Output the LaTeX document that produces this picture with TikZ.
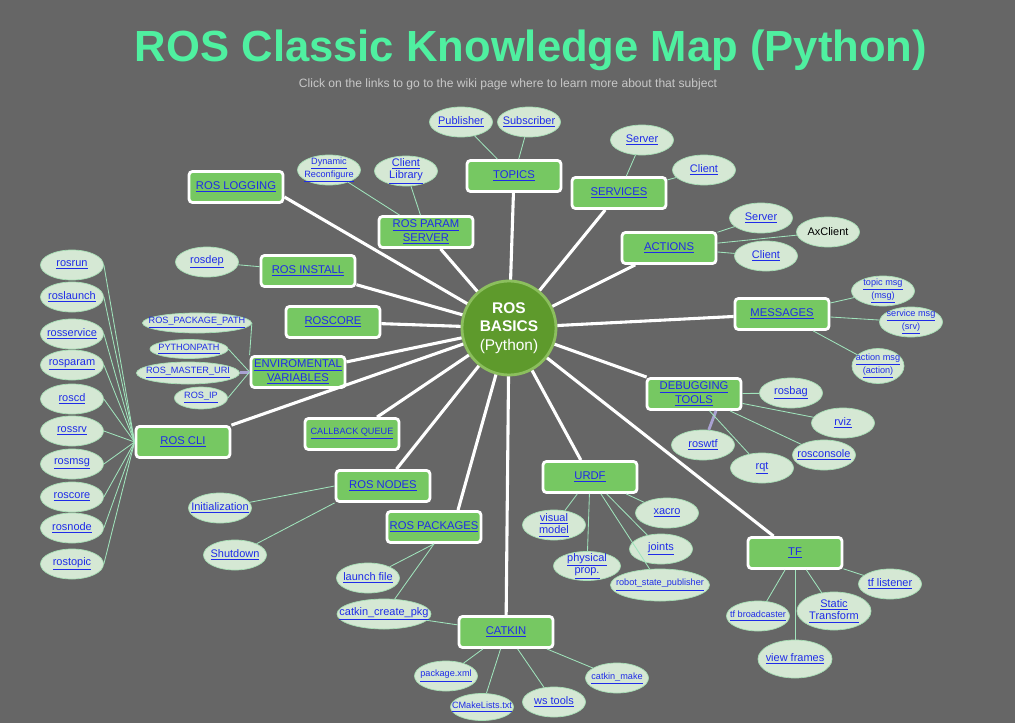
\documentclass[tikz,border=0pt]{standalone}
\usepackage{fontspec}
\setmainfont{Liberation Sans}
\usetikzlibrary{shapes.geometric, positioning}

\definecolor{bggray}{HTML}{666666}
\definecolor{boxgreen}{HTML}{76C862}
\definecolor{coregreen}{HTML}{5E9A2C}
\definecolor{coreedge}{HTML}{8CBF5E}
\definecolor{leaffill}{HTML}{D5E8D4}
\definecolor{leafedge}{HTML}{A6DDB4}
\definecolor{twiggreen}{HTML}{A0E4BC}
\definecolor{linkblue}{HTML}{1F2BE8}
\definecolor{titlegreen}{HTML}{4FF0A0}
\definecolor{subgray}{HTML}{C8C8C8}
\definecolor{lavender}{HTML}{A9A2D2}

\begin{document}
\begin{tikzpicture}[x=0.025cm, y=-0.025cm,
	topic/.style={draw=white, line width=2pt, fill=boxgreen, rounded corners=2.5pt,
		minimum width=2.35cm, minimum height=0.775cm, inner sep=1pt, align=center,
		text=linkblue, font=\fontsize{8}{9.6}\selectfont},
	leaf/.style={ellipse, draw=leafedge, fill=leaffill, line width=0.5pt,
		minimum width=1.575cm, minimum height=0.75cm, inner xsep=-10pt, inner ysep=-3pt,
		align=center, text=linkblue, font=\fontsize{7.8}{8.8}\selectfont},
	smalltext/.style={font=\fontsize{6.5}{7.6}\selectfont},
	spoke/.style={draw=white, line width=2.2pt},
	twig/.style={draw=twiggreen, line width=0.6pt},
	thicktwig/.style={draw=lavender, line width=2pt}]
	
	\newcommand{\lnk}[1]{\underline{#1}}
	
	% page
	\fill[bggray] (0,0) rectangle (1015,723);
	\node[font=\fontsize{31}{34}\selectfont\bfseries, text=titlegreen] (title) at (531,50)
	{ROS Classic Knowledge Map (Python)};
	\node[font=\fontsize{8.6}{10}\selectfont, text=subgray] (subtitle) at (508,84)
	{Click on the links to go to the wiki page where to learn more about that subject};
	
	% centre
	\node[circle, fill=coregreen, draw=coreedge, line width=2pt, minimum size=2.35cm,
	inner sep=0pt, text=white, align=center, font=\fontsize{11}{13}\selectfont] (core) at (509,328)
	{\textbf{ROS}\\\textbf{BASICS}\\(Python)};
	
	% main topics
	\node[topic] (topics) at (514,176) {\lnk{TOPICS}};
	\node[topic] (services) at (619,193) {\lnk{SERVICES}};
	\node[topic] (actions) at (669,248) {\lnk{ACTIONS}};
	\node[topic] (messages) at (782,314) {\lnk{MESSAGES}};
	\node[topic] (debug) at (694,394) {\lnk{DEBUGGING}\\\lnk{TOOLS}};
	\node[topic] (urdf) at (590,477) {\lnk{URDF}};
	\node[topic] (tf) at (795,553) {\lnk{TF}};
	\node[topic] (catkin) at (506,632) {\lnk{CATKIN}};
	\node[topic] (packages) at (434,527) {\lnk{ROS PACKAGES}};
	\node[topic] (nodes) at (383,486) {\lnk{ROS NODES}};
	\node[topic, smalltext] (callback) at (352,434) {\lnk{CALLBACK QUEUE}};
	\node[topic] (cli) at (183,442) {\lnk{ROS CLI}};
	\node[topic] (envvars) at (298,372) {\lnk{ENVIROMENTAL}\\\lnk{VARIABLES}};
	\node[topic] (roscore) at (333,322) {\lnk{ROSCORE}};
	\node[topic] (install) at (308,271) {\lnk{ROS INSTALL}};
	\node[topic] (logging) at (236,187) {\lnk{ROS LOGGING}};
	\node[topic] (param) at (426,232) {\lnk{ROS PARAM}\\\lnk{SERVER}};
	
	% spokes
	\foreach \b in {topics, services, actions, messages, debug, urdf, tf, catkin,
		nodes, callback, cli, envvars, roscore, install, param}
	\draw[spoke] (core) -- (\b);
	\draw[spoke] (core) -- ([xshift=0.6cm]packages.north);
	\draw[spoke] (core) -- ([yshift=-0.25cm]logging.east);
	
	% ros cli column
	\foreach \c/\y in {rosrun/265, roslaunch/297, rosservice/334, rosparam/365, roscd/399,
		rossrv/431, rosmsg/464, roscore/497, rosnode/528, rostopic/564} {
		\node[leaf] (c-\c) at (72,\y) {\lnk{\c}};
		\draw[twig] (c-\c.east) -- (cli.west);
	}
	
	% topics, param server, install
	\node[leaf] (pub) at (461,122) {\lnk{Publisher}};
	\node[leaf] (sub) at (529,122) {\lnk{Subscriber}};
	\node[leaf] (clientlib) at (406,171) {\lnk{Client}\\\lnk{Library}};
	\node[leaf, smalltext] (dynreconf) at (329,170) {\lnk{Dynamic}\\\lnk{Reconfigure}};
	\node[leaf] (rosdep) at (207,262) {\lnk{rosdep}};
	\draw[twig] (pub) -- (topics);
	\draw[twig] (sub) -- (topics);
	\draw[twig] (clientlib) -- (param);
	\draw[twig] (dynreconf) -- (param);
	\draw[twig] (rosdep) -- (install);
	
	% services, actions, messages
	\node[leaf] (srvserver) at (642,140) {\lnk{Server}};
	\node[leaf] (srvclient) at (704,170) {\lnk{Client}};
	\node[leaf] (actserver) at (761,218) {\lnk{Server}};
	\node[leaf, text=black] (axclient) at (828,232) {AxClient};
	\node[leaf] (actclient) at (766,256) {\lnk{Client}};
	\node[leaf, smalltext] (topicmsg) at (883,291) {\lnk{topic msg}\\\lnk{(msg)}};
	\node[leaf, smalltext] (srvmsg) at (911,322) {\lnk{service msg}\\\lnk{(srv)}};
	\node[leaf, smalltext, minimum width=1.3cm, minimum height=0.875cm] (actmsg) at (878,366)
	{\lnk{action msg}\\\lnk{(action)}};
	\draw[twig] (srvserver) -- (services);
	\draw[twig] (srvclient) -- (services);
	\draw[twig] (actserver) -- (actions);
	\draw[twig] (axclient) -- (actions);
	\draw[twig] (actclient) -- (actions);
	\draw[twig] (topicmsg) -- (messages);
	\draw[twig] (srvmsg) -- (messages);
	\draw[twig] (actmsg) -- (messages);
	
	% debugging tools
	\node[leaf] (rosbag) at (791,393) {\lnk{rosbag}};
	\node[leaf] (rviz) at (843,423) {\lnk{rviz}};
	\node[leaf] (roswtf) at (703,445) {\lnk{roswtf}};
	\node[leaf] (rqt) at (762,468) {\lnk{rqt}};
	\node[leaf] (rosconsole) at (824,455) {\lnk{rosconsole}};
	\draw[twig] (rosbag) -- (debug);
	\draw[twig] (rviz) -- (debug);
	\draw[thicktwig] (roswtf) -- ([xshift=0.55cm]debug.south);
	\draw[twig] (rqt) -- (debug);
	\draw[twig] (rosconsole) -- (debug);
	
	% urdf
	\node[leaf] (visual) at (554,525) {\lnk{visual}\\\lnk{model}};
	\node[leaf, minimum width=1.675cm, minimum height=0.725cm] (physical) at (587,566)
	{\lnk{physical}\\\lnk{prop.}};
	\node[leaf, smalltext, minimum width=2.475cm, minimum height=0.8cm] (rsp) at (660,585)
	{\lnk{robot\_state\_publisher}};
	\node[leaf] (joints) at (661,549) {\lnk{joints}};
	\node[leaf] (xacro) at (667,513) {\lnk{xacro}};
	\draw[twig] (visual) -- (urdf);
	\draw[twig] (physical) -- (urdf);
	\draw[twig] (rsp) -- (urdf);
	\draw[twig] (joints) -- (urdf);
	\draw[twig] (xacro) -- (urdf);
	
	% tf
	\node[leaf, smalltext] (tfbroad) at (758,616) {\lnk{tf broadcaster}};
	\node[leaf, minimum width=1.85cm, minimum height=0.95cm] (viewframes) at (795,659) {\lnk{view frames}};
	\node[leaf, minimum width=1.85cm, minimum height=0.95cm] (static) at (834,611)
	{\lnk{Static}\\\lnk{Transform}};
	\node[leaf] (tflisten) at (890,584) {\lnk{tf listener}};
	\draw[twig] (tfbroad) -- (tf);
	\draw[twig] (viewframes) -- (tf);
	\draw[twig] (static) -- (tf);
	\draw[twig] (tflisten) -- (tf);
	
	% catkin and packages
	\node[leaf, smalltext] (pkgxml) at (446,676) {\lnk{package.xml}};
	\node[leaf, smalltext, minimum height=0.675cm] (cmakelists) at (482,707) {\lnk{CMakeLists.txt}};
	\node[leaf] (wstools) at (554,702) {\lnk{ws tools}};
	\node[leaf, smalltext] (catkinmake) at (617,678) {\lnk{catkin\_make}};
	\node[leaf] (launch) at (368,578) {\lnk{launch file}};
	\node[leaf, minimum width=2.35cm] (createpkg) at (384,614) {\lnk{catkin\_create\_pkg}};
	\draw[twig] (pkgxml) -- (catkin);
	\draw[twig] (cmakelists) -- (catkin);
	\draw[twig] (wstools) -- (catkin);
	\draw[twig] (catkinmake) -- (catkin);
	\draw[twig] (launch) -- (packages.south);
	\draw[twig] (createpkg) -- (packages.south);
	\draw[twig] (createpkg) -- (catkin);
	
	% nodes
	\node[leaf] (init) at (220,508) {\lnk{Initialization}};
	\node[leaf] (shutdown) at (235,555) {\lnk{Shutdown}};
	\draw[twig] (init) -- (nodes.west);
	\draw[twig] (shutdown) -- (nodes.south west);
	
	% environment variables
	\node[leaf, smalltext, minimum width=2.725cm, minimum height=0.5cm] (pkgpath) at (197,323)
	{\lnk{ROS\_PACKAGE\_PATH}};
	\node[leaf, smalltext, minimum width=1.95cm, minimum height=0.475cm] (pypath) at (189,349)
	{\lnk{PYTHONPATH}};
	\node[leaf, smalltext, minimum width=2.575cm, minimum height=0.55cm] (masteruri) at (188,373)
	{\lnk{ROS\_MASTER\_URI}};
	\node[leaf, smalltext, minimum width=1.325cm, minimum height=0.55cm] (rosip) at (201,398)
	{\lnk{ROS\_IP}};
	\draw[twig] (pkgpath.east) -- (envvars.north west);
	\draw[twig] (pypath.east) -- (envvars.west);
	\draw[thicktwig] (masteruri) -- (envvars);
	\draw[twig] (rosip.east) -- (envvars.west);
	
\end{tikzpicture}
\end{document}
